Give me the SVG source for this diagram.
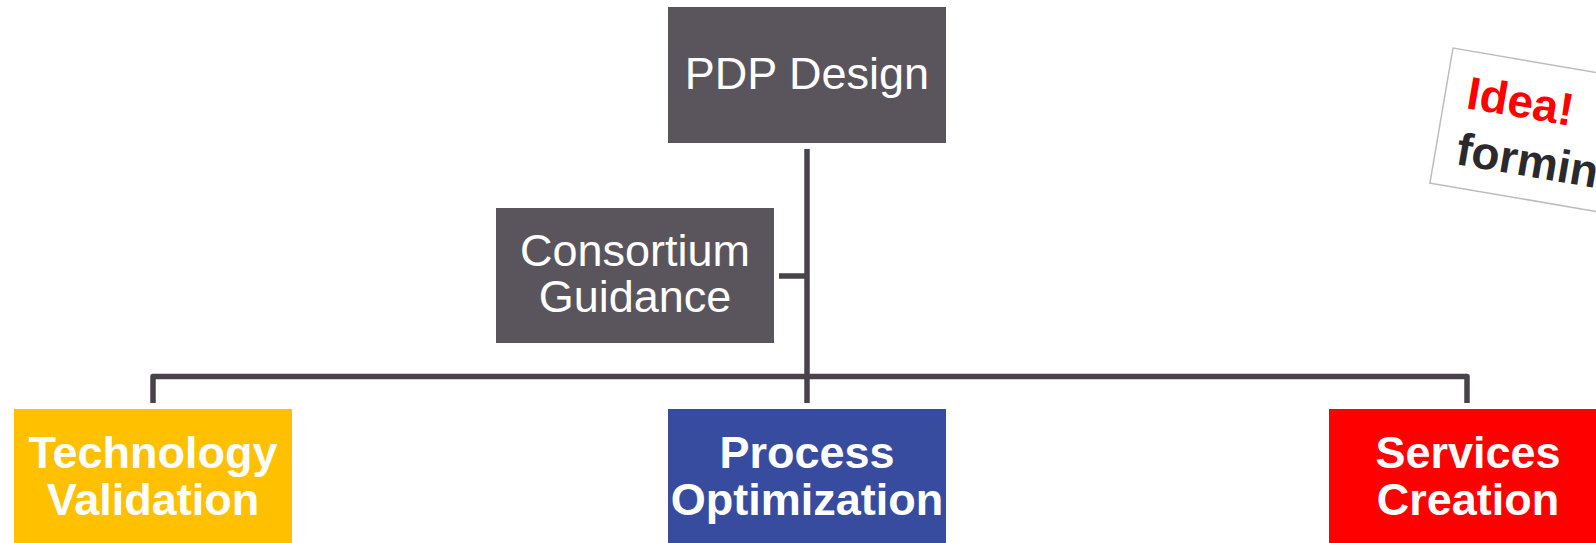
<svg xmlns="http://www.w3.org/2000/svg" width="1596" height="543" viewBox="0 0 1596 543">
  <style>
    .box { fill: #5a555c; }
    .lbl { font-family: "Liberation Sans", Arial, sans-serif; font-size: 45px; fill: #ffffff; text-anchor: middle; }
    .bold { font-weight: bold; }
    .wire { fill: none; stroke: #48434a; stroke-width: 5.5; stroke-linejoin: round; }
    .note { font-family: "Liberation Sans", Arial, sans-serif; font-size: 46px; font-weight: bold; }
  </style>
  <rect width="1596" height="543" fill="#ffffff"/>

  <!-- connectors -->
  <g id="connectors">
    <line class="wire" x1="807" y1="149" x2="807" y2="403"/>
    <line class="wire" x1="779" y1="276" x2="807" y2="276"/>
    <path class="wire" d="M153 403 V376.5 H1467 V403"/>
  </g>

  <g id="pdp-design">
    <rect class="box" x="668" y="7" width="278" height="136"/>
    <text class="lbl" x="807" y="89">PDP Design</text>
  </g>

  <g id="consortium-guidance">
    <rect class="box" x="496" y="208" width="278" height="135"/>
    <text class="lbl" x="635" y="266">Consortium</text>
    <text class="lbl" x="635" y="312">Guidance</text>
  </g>

  <g id="technology-validation">
    <rect x="14" y="409" width="278" height="150" fill="#ffc000"/>
    <text class="lbl bold" x="153" y="468">Technology</text>
    <text class="lbl bold" x="153" y="515">Validation</text>
  </g>

  <g id="process-optimization">
    <rect x="668" y="409" width="278" height="150" fill="#384c9f"/>
    <text class="lbl bold" x="807" y="468">Process</text>
    <text class="lbl bold" x="807" y="515">Optimization</text>
  </g>

  <g id="services-creation">
    <rect x="1329" y="409" width="278" height="150" fill="#ff0000"/>
    <text class="lbl bold" x="1468" y="468">Services</text>
    <text class="lbl bold" x="1468" y="515">Creation</text>
  </g>

  <!-- tilted sticky note -->
  <g id="idea-note" transform="translate(1453 48) rotate(9.7)">
    <rect x="0" y="0" width="280" height="137" fill="#ffffff" stroke="#bdbbbf" stroke-width="1.5"/>
    <text class="note" x="22" y="57" fill="#ff0000">Idea!</text>
    <text class="note" x="21" y="114" fill="#2a292e">forming</text>
  </g>
</svg>
